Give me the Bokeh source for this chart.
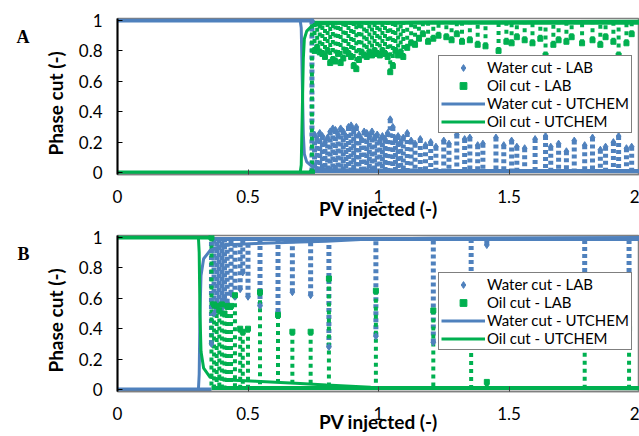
from bokeh.plotting import figure
from bokeh.models import (Range1d, FixedTicker, CustomJSTickFormatter, Legend,
                          LegendItem, LinearAxis)
from bokeh.layouts import column
from bokeh.embed import file_html
from bokeh.resources import INLINE

BLUE = "#4F81BD"
GREEN = "#00B050"
FONT = "Lato"

x_ticks = [0, 0.5, 1, 1.5, 2]
y_ticks = [0, 0.2, 0.4, 0.6, 0.8, 1]
x_title = "PV injected (-)"
y_title = "Phase cut (-)"
legend_labels = ["Water cut - LAB", "Oil cut - LAB", "Water cut - UTCHEM", "Oil cut - UTCHEM"]

# ---------------- Panel A ----------------
a_ut_x = [0.0, 0.700, 0.704, 0.708, 0.712, 0.716, 0.725, 0.745, 0.80, 1.20, 2.00]
a_ut_water = [1.0, 1.0, 0.95, 0.60, 0.25, 0.12, 0.07, 0.04, 0.02, 0.01, 0.005]
a_ut_oil = [0.0, 0.0, 0.05, 0.40, 0.75, 0.88, 0.93, 0.965, 0.98, 0.99, 0.995]

# LAB plateaus (before / after breakthrough)
a_water_plateau_x0 = [0.0, 0.745]
a_water_plateau_x1 = [0.745, 2.0]
a_water_plateau_y = [1.0, 0.01]
a_oil_plateau_x0 = [0.0, 0.745]
a_oil_plateau_x1 = [0.745, 2.0]
a_oil_plateau_y = [0.0, 0.985]

# LAB scatter columns: water cut from 0 up to top value
a_water_col_x = [0.745, 0.755, 0.765, 0.775, 0.785, 0.795, 0.805, 0.815, 0.825, 0.835,
                 0.845, 0.855, 0.865, 0.875, 0.885, 0.895, 0.905, 0.915, 0.925, 0.935,
                 0.945, 0.955, 0.965, 0.975, 0.985, 0.995, 1.005, 1.015, 1.025, 1.035,
                 1.045, 1.055, 1.065, 1.075, 1.085, 1.095, 1.11, 1.125, 1.14, 1.16,
                 1.18, 1.20, 1.22, 1.25, 1.27, 1.30, 1.33, 1.35, 1.38, 1.40,
                 1.45, 1.48, 1.51, 1.53, 1.56, 1.60, 1.64, 1.66, 1.69, 1.72,
                 1.75, 1.79, 1.82, 1.85, 1.87, 1.90, 1.92, 1.95, 1.97]
a_water_col_top = [1.00, 0.25, 0.22, 0.26, 0.24, 0.20, 0.23, 0.27, 0.29, 0.28,
                   0.25, 0.29, 0.27, 0.24, 0.30, 0.31, 0.28, 0.30, 0.25, 0.22,
                   0.27, 0.26, 0.24, 0.27, 0.23, 0.25, 0.21, 0.24, 0.22, 0.26,
                   0.35, 0.30, 0.22, 0.24, 0.20, 0.23, 0.26, 0.21, 0.19, 0.22,
                   0.18, 0.20, 0.17, 0.21, 0.19, 0.25, 0.22, 0.23, 0.18, 0.19,
                   0.23, 0.18, 0.21, 0.17, 0.16, 0.22, 0.24, 0.17, 0.19, 0.14,
                   0.21, 0.18, 0.23, 0.15, 0.17, 0.20, 0.24, 0.16, 0.17]
# oil cut from bottom value up to 1
a_oil_col_x = [0.745, 0.755, 0.765, 0.775, 0.785, 0.795, 0.805, 0.815, 0.825, 0.835,
               0.845, 0.855, 0.865, 0.875, 0.885, 0.895, 0.905, 0.915, 0.925, 0.935,
               0.945, 0.955, 0.965, 0.975, 0.985, 0.995, 1.005, 1.015, 1.025, 1.035,
               1.045, 1.055, 1.065, 1.075, 1.085, 1.095, 1.11, 1.125, 1.14, 1.155,
               1.17, 1.19, 1.21, 1.23, 1.26, 1.28, 1.30, 1.32, 1.35, 1.38,
               1.41, 1.46, 1.49, 1.51, 1.53, 1.56, 1.59, 1.62, 1.64, 1.67,
               1.69, 1.72, 1.74, 1.78, 1.82, 1.85, 1.87, 1.90, 1.92, 1.95, 1.97]
a_oil_col_bottom = [0.00, 0.80, 0.82, 0.79, 0.78, 0.76, 0.80, 0.72, 0.74, 0.73,
                    0.78, 0.72, 0.75, 0.80, 0.78, 0.76, 0.70, 0.68, 0.74, 0.79,
                    0.77, 0.76, 0.79, 0.77, 0.80, 0.78, 0.77, 0.80, 0.78, 0.76,
                    0.66, 0.70, 0.80, 0.77, 0.79, 0.76, 0.82, 0.85, 0.84, 0.88,
                    0.91, 0.86, 0.88, 0.90, 0.89, 0.87, 0.91, 0.86, 0.87, 0.84,
                    0.83, 0.80, 0.86, 0.85, 0.89, 0.87, 0.85, 0.88, 0.77, 0.84,
                    0.87, 0.86, 0.89, 0.85, 0.87, 0.84, 0.89, 0.86, 0.77, 0.85, 0.91]

# ---------------- Panel B ----------------
b_ut_x = [0.0, 0.310, 0.313, 0.316, 0.320, 0.330, 0.355, 0.405, 0.53, 0.70, 0.80, 0.97, 1.20, 2.00]
b_ut_water = [0.0, 0.0, 0.10, 0.50, 0.75, 0.86, 0.915, 0.95, 0.96, 0.97, 0.975, 0.99, 0.995, 1.0]
b_ut_oil = [1.0, 1.0, 0.90, 0.50, 0.25, 0.14, 0.08, 0.065, 0.055, 0.04, 0.03, 0.015, 0.01, 0.005]

b_water_plateau_x0 = [0.0, 0.36]
b_water_plateau_x1 = [0.36, 2.0]
b_water_plateau_y = [0.0, 0.99]
b_oil_plateau_x0 = [0.0, 0.36]
b_oil_plateau_x1 = [0.36, 2.0]
b_oil_plateau_y = [1.0, 0.01]

# water cut from bottom value up to 1
b_water_col_x = [0.36, 0.37, 0.38, 0.39, 0.40, 0.41, 0.42, 0.435, 0.45, 0.47,
                 0.48, 0.50, 0.546, 0.615, 0.67, 0.74, 0.81, 0.99, 1.21, 1.355,
                 1.415, 1.79, 1.96]
b_water_col_bottom = [0.30, 0.50, 0.53, 0.55, 0.53, 0.60, 0.57, 0.63, 0.61, 0.66,
                      0.77, 0.61, 0.55, 0.51, 0.64, 0.62, 0.28, 0.35, 0.31, 0.55,
                      0.95, 0.45, 0.45]
# oil cut from 0 up to top value
b_oil_col_x = [0.36, 0.37, 0.38, 0.39, 0.40, 0.41, 0.42, 0.435, 0.45, 0.47,
               0.48, 0.50, 0.546, 0.615, 0.67, 0.74, 0.81, 0.99, 1.21, 1.355,
               1.415, 1.79, 1.96]
b_oil_col_top = [1.00, 0.56, 0.55, 0.52, 0.56, 0.50, 0.55, 0.55, 0.62, 0.40,
                 0.38, 0.40, 0.64, 0.49, 0.38, 0.38, 0.73, 0.65, 0.52, 0.45,
                 0.05, 0.40, 0.40]


def make_panel(letter, ut_x, ut_w, ut_o, wp, op, wcol, ocol, water_from_zero,
               height, top, bottom, xlabel_standoff):
    p = figure(width=639, height=height, output_backend="svg", toolbar_location=None,
               x_range=Range1d(0, 2), y_range=Range1d(-0.013, 1.013),
               min_border_left=117, min_border_right=0, min_border_top=top,
               min_border_bottom=bottom)
    p.background_fill_color = "white"
    p.border_fill_color = "white"
    p.grid.visible = False
    p.outline_line_color = "#808080"
    p.outline_line_width = 1.5

    # LAB plateaus
    p.segment(x0=wp[0], y0=wp[2], x1=wp[1], y1=wp[2], line_color=BLUE, line_width=4)
    p.segment(x0=op[0], y0=op[2], x1=op[1], y1=op[2], line_color=GREEN, line_width=4)

    # LAB columns (dash pattern starts at the measured end value)
    wx, wv = wcol
    ox, ov = ocol
    if water_from_zero:
        w_end = [0.0 for _ in wx]
        o_end = [0.99 for _ in ox]
    else:
        w_end = [1.0 for _ in wx]
        o_end = [0.0 for _ in ox]
    p.segment(x0=wx, y0=wv, x1=wx, y1=w_end, line_color=BLUE, line_width=5, line_dash="4 3")
    p.segment(x0=ox, y0=ov, x1=ox, y1=o_end, line_color=GREEN, line_width=4, line_dash="4 4")
    rw = p.scatter(x=wx, y=wv, marker="diamond", size=7, color=BLUE)
    ro = p.scatter(x=ox, y=ov, marker="square", size=5, color=GREEN)

    # UTCHEM
    lw = p.line(ut_x, ut_w, line_color=BLUE, line_width=3)
    lo = p.line(ut_x, ut_o, line_color=GREEN, line_width=3)

    # axes
    p.xaxis.ticker = FixedTicker(ticks=x_ticks)
    p.yaxis.ticker = FixedTicker(ticks=y_ticks)
    p.xaxis.formatter = CustomJSTickFormatter(code="return String(tick);")
    p.yaxis.formatter = CustomJSTickFormatter(code="return String(tick);")
    for ax in (p.xaxis[0], p.yaxis[0]):
        ax.major_tick_in = 5
        ax.major_tick_out = 0
        ax.minor_tick_in = 0
        ax.minor_tick_out = 0
        ax.major_label_text_font = FONT
        ax.major_label_text_font_size = "17px"
        ax.major_label_text_color = "black"
        ax.major_label_standoff = 15
    p.yaxis.axis_line_color = "black"
    p.yaxis.axis_line_width = 2
    p.yaxis.major_tick_line_color = "black"
    p.xaxis.axis_line_color = "#808080"
    p.xaxis.axis_line_width = 1.5
    p.xaxis.major_tick_line_color = "#404040"
    # trailing no-break spaces shift the rotated title slightly downward, as in the reference
    p.yaxis.axis_label = y_title + "\u00a0\u00a0\u00a0"
    p.yaxis.axis_label_text_font = FONT
    p.yaxis.axis_label_text_font_style = "bold"
    p.yaxis.axis_label_text_font_size = "19px"
    p.yaxis.axis_label_text_color = "black"
    p.yaxis.axis_label_standoff = 9
    p.xaxis.axis_label = x_title
    p.xaxis.axis_label_text_font = FONT
    p.xaxis.axis_label_text_font_style = "bold"
    p.xaxis.axis_label_text_font_size = "19px"
    p.xaxis.axis_label_text_color = "black"
    p.xaxis.axis_label_standoff = xlabel_standoff

    # panel letter as an extra, line-less axis on the left
    letter_axis = LinearAxis(ticker=FixedTicker(ticks=[0.89]),
                             formatter=CustomJSTickFormatter(code='return "%s";' % letter))
    letter_axis.axis_line_color = None
    letter_axis.major_tick_line_color = None
    letter_axis.minor_tick_line_color = None
    letter_axis.major_tick_in = 0
    letter_axis.major_tick_out = 0
    letter_axis.major_label_standoff = 11
    letter_axis.major_label_text_font = "Liberation Serif"
    letter_axis.major_label_text_font_style = "bold"
    letter_axis.major_label_text_font_size = "18px"
    letter_axis.major_label_text_color = "black"
    p.add_layout(letter_axis, "left")

    legend = Legend(items=[LegendItem(label=legend_labels[0], renderers=[rw]),
                           LegendItem(label=legend_labels[1], renderers=[ro]),
                           LegendItem(label=legend_labels[2], renderers=[lw]),
                           LegendItem(label=legend_labels[3], renderers=[lo])],
                    location=(321, 41))
    legend.label_text_font = FONT
    legend.label_text_font_size = "15px"
    legend.label_text_color = "black"
    legend.label_height = 17
    legend.glyph_height = 17
    legend.glyph_width = 44
    legend.label_standoff = 2
    legend.spacing = 0
    legend.padding = 2
    legend.margin = 0
    legend.border_line_color = "black"
    legend.border_line_width = 1
    legend.background_fill_color = "white"
    legend.background_fill_alpha = 1.0
    p.add_layout(legend)
    return p


pA = make_panel("A", a_ut_x, a_ut_water, a_ut_oil,
                (a_water_plateau_x0, a_water_plateau_x1, a_water_plateau_y),
                (a_oil_plateau_x0, a_oil_plateau_x1, a_oil_plateau_y),
                (a_water_col_x, a_water_col_top), (a_oil_col_x, a_oil_col_bottom),
                True, 222, 18, 48, -9)
pB = make_panel("B", b_ut_x, b_ut_water, b_ut_oil,
                (b_water_plateau_x0, b_water_plateau_x1, b_water_plateau_y),
                (b_oil_plateau_x0, b_oil_plateau_x1, b_oil_plateau_y),
                (b_water_col_x, b_water_col_bottom), (b_oil_col_x, b_oil_col_top),
                False, 214, 13, 45, -13)

layout = column(pA, pB, spacing=0)
open("out.html", "w").write(file_html(layout, INLINE))
